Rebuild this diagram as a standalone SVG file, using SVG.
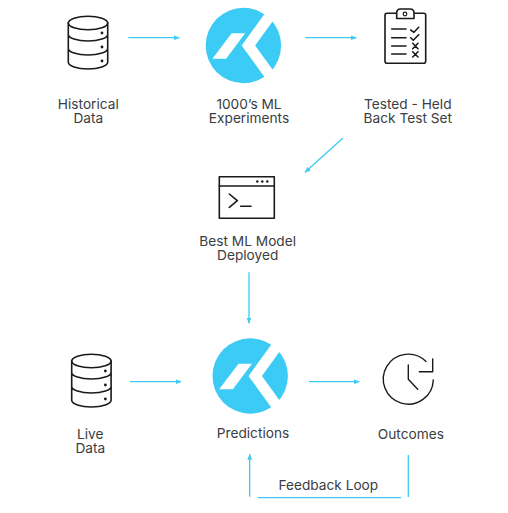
<svg xmlns="http://www.w3.org/2000/svg" width="508" height="513" viewBox="0 0 508 513">
<style>
text{font-family:"Inter","Liberation Sans",sans-serif;font-size:13.7px;fill:#3a3d42;text-anchor:middle}
.i{fill:none;stroke:#1a1a1a;stroke-width:1.6;stroke-linecap:round;stroke-linejoin:round}
.d{fill:#1a1a1a}
.c{fill:none;stroke:#3ccbf4;stroke-width:1.3}
</style>
<defs>
<marker id="a" viewBox="0 0 6 6" refX="5.5" refY="3" markerWidth="6" markerHeight="6" markerUnits="userSpaceOnUse" orient="auto"><path d="M0 .6L6 3L0 5.4z" fill="#3ccbf4"/></marker>
<g id="logo">
<circle r="37.7" fill="#3ccbf4"/>
<path d="M-1.7 0L26.5-39H40L11.7 0L40 39H26.5z" fill="#fff"/>
<path d="M-11.7-12.3H1.7L-17.3 13.3H-31z" fill="#fff"/>
</g>
<g id="db">
<ellipse cx="88" cy="23" rx="19.7" ry="6.8" class="i"/>
<path d="M68.3 23V62.3C68.3 66 77 69 88 69S107.7 66 107.7 62.3V23M68.3 34.5C68.3 38 77 41 88 41S107.7 38 107.7 34.5M68.3 48.5C68.3 52 77 55 88 55S107.7 52 107.7 48.5" class="i"/>
<circle cx="102" cy="33" r="1.4" class="d"/><circle cx="102" cy="47" r="1.4" class="d"/><circle cx="102" cy="61" r="1.4" class="d"/>
</g>
</defs>
<g id="connectors">
<path class="c" d="M128.3 37.7H179.3" marker-end="url(#a)"/>
<path class="c" d="M305.3 37.7H356.3" marker-end="url(#a)"/>
<path class="c" d="M342.7 138.3L305 172.3" marker-end="url(#a)"/>
<path class="c" d="M249 272.3V323.3" marker-end="url(#a)"/>
<path class="c" d="M130 381.7H181" marker-end="url(#a)"/>
<path class="c" d="M309 381.7H359.3" marker-end="url(#a)"/>
<path class="c" d="M408.3 455V497"/>
<path class="c" d="M401 497.7H257.7"/>
<path class="c" d="M249.7 496.7V454.3" marker-end="url(#a)"/>
</g>
<g id="historical-data">
<use href="#db"/>
<text y="109"><tspan x="88.3">Historical</tspan><tspan x="88.3" dy="14">Data</tspan></text>
</g>
<g id="ml-experiments">
<use href="#logo" x="243.4" y="45.5"/>
<text y="109"><tspan x="249">1000’s ML</tspan><tspan x="249" dy="14">Experiments</tspan></text>
</g>
<g id="tested">
<rect x="385" y="13.3" width="40.7" height="50" rx="2" class="i"/>
<path d="M396.7 18.5V13C396.7 10.5 398 9 400.5 9H410C412.5 9 414 10.5 414 13V18.5z" fill="#fff" stroke="#1a1a1a" stroke-width="1.6" stroke-linejoin="round"/>
<circle cx="405" cy="14" r="1.8" class="i" style="stroke-width:1.2"/>
<path class="i" d="M391.7 29H406M391.7 37.7H406M391.7 46H406M391.7 54H406M410.7 30L414 32.3L418.7 27.3M410.7 37.7L413.3 40.3L418.7 34.7M412.7 43.3L418 48.7M418 43.3L412.7 48.7M412.7 51.7L418 57M418 51.7L412.7 57"/>
<text y="109"><tspan x="407.8">Tested - Held</tspan><tspan x="407.8" dy="14">Back Test Set</tspan></text>
</g>
<g id="best-model">
<rect x="219.3" y="176.7" width="55" height="41.6" class="i"/>
<path class="i" d="M219.3 186H274.3M229.3 194L237.3 200.7L229.3 207.3M240.7 206.3H251"/>
<circle cx="257.3" cy="181.5" r="1.2" class="d"/><circle cx="262.3" cy="181.5" r="1.2" class="d"/><circle cx="267.3" cy="181.5" r="1.2" class="d"/>
<text y="246"><tspan x="247.7">Best ML Model</tspan><tspan x="247.7" dy="14">Deployed</tspan></text>
</g>
<g id="live-data">
<use href="#db" x="3.4" y="338"/>
<text y="439"><tspan x="90.3">Live</tspan><tspan x="90.3" dy="14">Data</tspan></text>
</g>
<g id="predictions">
<use href="#logo" x="250.2" y="376"/>
<text x="253" y="437.5">Predictions</text>
</g>
<g id="outcomes">
<path class="i" style="stroke-width:1.4" d="M433.3 380A25 25 0 1 1 426 361.5M432.7 359V371.7H419.3M408.3 365V379.3L417.7 389.3"/>
<text x="410.8" y="439">Outcomes</text>
</g>
<g id="feedback">
<text x="328.3" y="490">Feedback Loop</text>
</g>
</svg>
